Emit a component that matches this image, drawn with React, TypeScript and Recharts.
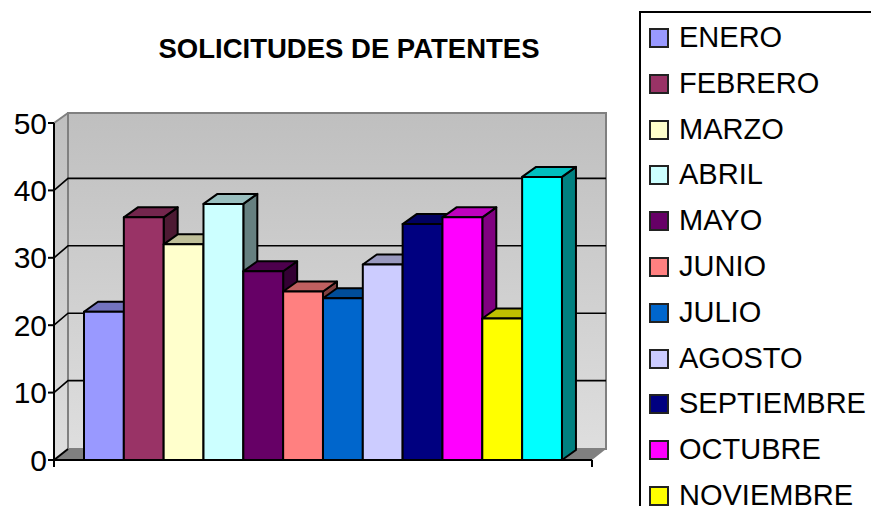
import React from 'react';
import { BarChart, Bar, XAxis, YAxis, CartesianGrid, Legend, usePlotArea } from 'recharts';

const MONTHS = ['ENERO', 'FEBRERO', 'MARZO', 'ABRIL', 'MAYO', 'JUNIO', 'JULIO', 'AGOSTO', 'SEPTIEMBRE', 'OCTUBRE', 'NOVIEMBRE', 'DICIEMBRE'];
const VALUES = [22, 36, 32, 38, 28, 25, 24, 29, 35, 36, 21, 42];
const COLORS = ['#9999FF', '#993366', '#FFFFCC', '#CCFFFF', '#660066', '#FF8080', '#0066CC', '#CCCCFF', '#000080', '#FF00FF', '#FFFF00', '#00FFFF'];
const Y_TICKS = [0, 10, 20, 30, 40, 50];
const TITLE = 'SOLICITUDES DE PATENTES';

const row: Record<string, number | string> = { label: '' };
MONTHS.forEach((m, i) => { row[m] = VALUES[i]; });
const data = [row];

const FONT = '"Liberation Sans", Arial, sans-serif';
const DX = 14;
const DY = 11;
const BAR_DX = 14;
const BAR_DY = 10;

function shade(hex: string, k: number) {
  const n = parseInt(hex.slice(1), 16);
  const c = [(n >> 16) & 255, (n >> 8) & 255, n & 255].map((v) => Math.round(v * k));
  return `rgb(${c[0]},${c[1]},${c[2]})`;
}

function Walls() {
  const p = usePlotArea();
  if (!p) return null;
  const { x, y, width: w, height: h } = p;
  const b = y + h;
  const r = x + w;
  return (
    <g>
      <defs>
        <linearGradient id="wall" x1="0" y1="0" x2="0" y2="1">
          <stop offset="0" stopColor="#bfbfbf" />
          <stop offset="1" stopColor="#dedede" />
        </linearGradient>
      </defs>
      <polygon points={`${x},${y} ${x + DX},${y - DY + 1} ${x + DX},${b - DY} ${x},${b}`} fill="url(#wall)" />
      <rect x={x + DX} y={y - DY + 1} width={w} height={h - 1} fill="url(#wall)" stroke="#808080" strokeWidth={2} />
      <polygon points={`${x},${b} ${x + DX},${b - DY} ${r + DX},${b - DY} ${r},${b}`} fill="#808080" />
      <line x1={x} y1={y} x2={x + DX} y2={y - DY + 1} stroke="#808080" strokeWidth={2} />
    </g>
  );
}

function EndTicks() {
  const p = usePlotArea();
  if (!p) return null;
  const b = p.y + p.height;
  return (
    <g stroke="#000" strokeWidth={2}>
      <line x1={p.x} y1={b} x2={p.x} y2={b + 7} />
      <line x1={p.x + p.width} y1={b} x2={p.x + p.width} y2={b + 7} />
      <line x1={p.x} y1={b} x2={p.x + DX} y2={b - DY} />
    </g>
  );
}

function gridLine(props: any) {
  const { x1, x2, y1 } = props;
  if (Math.abs(y1 - 123) < 1 || Math.abs(y1 - 460) < 1) return <g key={props.key} />;
  return (
    <polyline
      key={props.key}
      points={`${x1},${y1} ${x1 + DX},${y1 - DY - 1} ${x2 + DX},${y1 - DY - 1}`}
      fill="none"
      stroke="#000"
      strokeWidth={1.6}
    />
  );
}

function Bar3D(props: any) {
  const { x, y, width: w, height: h, fill } = props;
  const common = { stroke: '#000', strokeWidth: 2, strokeLinejoin: 'round' as const };
  return (
    <g>
      <polygon points={`${x + w},${y} ${x + w + BAR_DX},${y - BAR_DY} ${x + w + BAR_DX},${y + h - BAR_DY} ${x + w},${y + h}`} fill={shade(fill, 0.5)} {...common} />
      <polygon points={`${x},${y} ${x + BAR_DX},${y - BAR_DY} ${x + w + BAR_DX},${y - BAR_DY} ${x + w},${y}`} fill={shade(fill, 0.75)} {...common} />
      <rect x={x} y={y} width={w} height={h} fill={fill} {...common} />
    </g>
  );
}

function LegendBox(props: any) {
  const items = props.payload || [];
  return (
    <div style={{ width: 300, height: 600, boxSizing: 'border-box', background: '#fff', borderLeft: '2px solid #000', borderTop: '2px solid #000', fontFamily: FONT, position: 'relative' }}>
      {items.map((it: any, i: number) => (
        <div key={it.value} style={{ position: 'absolute', left: 8, top: 14 + i * 45.8, height: 24, lineHeight: '24px', whiteSpace: 'nowrap' }}>
          <span style={{ position: 'absolute', left: 0, top: 1, width: 20, height: 20, boxSizing: 'border-box', background: it.color, border: '2px solid #222' }} />
          <span style={{ position: 'absolute', left: 30, top: -2, fontSize: 29, color: '#000' }}>{it.value}</span>
        </div>
      ))}
    </div>
  );
}

export default function App() {
  const gridProps: any = { zIndex: 1 };
  return (
    <div style={{ position: 'absolute', left: 0, top: 0, width: 871, height: 506, overflow: 'hidden', background: '#fff', fontFamily: FONT }}>
      <BarChart
        width={871}
        height={506}
        data={data}
        margin={{ top: 123, right: 279, bottom: 0, left: 0 }}
        barSize={39.83}
        barGap={0}
      >
        <Walls />
        <CartesianGrid vertical={false} horizontal={gridLine} {...gridProps} />
        <XAxis dataKey="label" height={46} tick={false} tickLine={false} axisLine={{ stroke: '#000', strokeWidth: 2 }} />
        <YAxis
          width={54}
          domain={[0, 50]}
          ticks={Y_TICKS}
          interval={0}
          tickSize={6}
          tickMargin={1}
          tick={{ fill: '#000', fontSize: 30, fontFamily: FONT }}
          tickLine={{ stroke: '#000', strokeWidth: 2 }}
          axisLine={{ stroke: '#000', strokeWidth: 2 }}
        />
        <EndTicks />
        {MONTHS.map((m, i) => (
          <Bar key={m} dataKey={m} name={m} fill={COLORS[i]} shape={Bar3D} isAnimationActive={false} />
        ))}
        <text x={349} y={58} textAnchor="middle" fontSize={27.5} fontWeight="bold" fontFamily={FONT} fill="#000">{TITLE}</text>
        <Legend
          layout="vertical"
          align="center"
          verticalAlign="middle"
          itemSorter={null}
          content={LegendBox}
          wrapperStyle={{ left: 639, top: 11, width: 300, height: 600 }}
        />
      </BarChart>
    </div>
  );
}
